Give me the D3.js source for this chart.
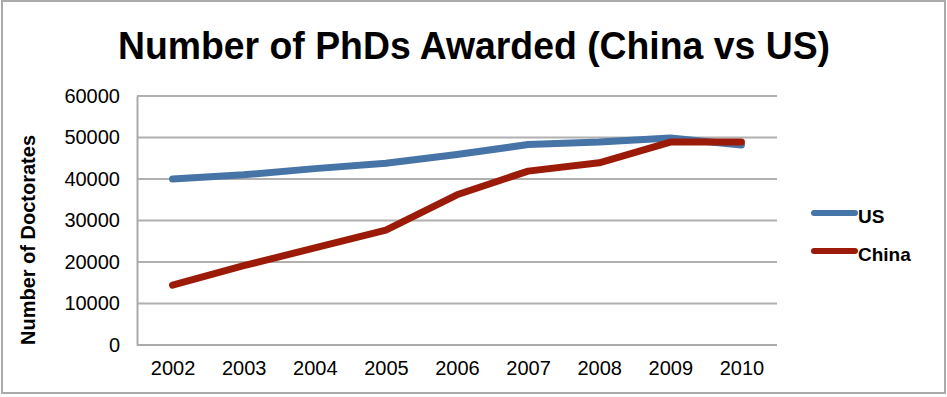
<!DOCTYPE html>
<html>
<head>
<meta charset="utf-8">
<script src="https://cdn.jsdelivr.net/npm/d3@7"></script>
<style>
  body { margin: 0; background: #fff; }
  text { font-family: "Liberation Sans", Arial, Helvetica, sans-serif; fill: #000; }
</style>
</head>
<body>
<div class="chartContainer"></div>
<script>
// data
const years = ['2002', '2003', '2004', '2005', '2006', '2007', '2008', '2009', '2010'];
const usValues = [40000, 41000, 42500, 43800, 45900, 48300, 48900, 49900, 48200];
const chinaValues = [14400, 19100, 23400, 27700, 36200, 41900, 43900, 48900, 48900];
const yTicks = [0, 10000, 20000, 30000, 40000, 50000, 60000];
const seriesNames = ['US', 'China'];
const seriesColors = ['#4674a7', '#9c1b08'];

const width = 947, height = 397;
const margins = { top: 96, bottom: 52, left: 137, right: 170 };
const chart_width = width - margins.left - margins.right;   // 640
const chart_height = height - margins.top - margins.bottom; // 249

const svg = d3.select('.chartContainer')
  .append('svg')
  .attr('width', width)
  .attr('height', height);

// outer frame
svg.append('rect')
  .attr('x', 2).attr('y', 1)
  .attr('width', 943).attr('height', 392)
  .attr('fill', 'none')
  .attr('stroke', '#aaa')
  .attr('stroke-width', 2);

// title
svg.append('text')
  .attr('x', 474)
  .attr('y', 59)
  .attr('text-anchor', 'middle')
  .attr('textLength', 712)
  .attr('lengthAdjust', 'spacingAndGlyphs')
  .style('font-size', '38px')
  .style('font-weight', 'bold')
  .text('Number of PhDs Awarded (China vs US)');

const xScale = d3.scalePoint()
  .domain(years)
  .range([0, chart_width])
  .padding(0.5);

const yScale = d3.scaleLinear()
  .domain([0, 60000])
  .range([chart_height, 0]);

const chart = svg.append('g')
  .attr('transform', `translate(${margins.left},${margins.top})`);

// gridlines
chart.selectAll('.grid')
  .data(yTicks.filter(d => d > 0))
  .enter()
  .append('line')
  .attr('class', 'grid')
  .attr('x1', 0).attr('x2', chart_width)
  .attr('y1', d => yScale(d)).attr('y2', d => yScale(d))
  .attr('stroke', '#b0b0b0')
  .attr('stroke-width', 2);

// y axis
const yAxis = chart.append('g')
  .call(d3.axisLeft(yScale).tickValues(yTicks).tickSize(0).tickPadding(17).tickFormat(d3.format('d')));
yAxis.select('.domain').attr('stroke', '#aaa').attr('stroke-width', 2);
yAxis.selectAll('text')
  .style('font-size', '20px')
  .attr('font-family', null);

// x axis
const xAxis = chart.append('g')
  .attr('transform', `translate(0,${chart_height})`)
  .call(d3.axisBottom(xScale).tickSize(0).tickPadding(16));
xAxis.select('.domain').attr('stroke', '#aaa').attr('stroke-width', 2)
  .attr('d', `M0,0H${chart_width}`);
xAxis.selectAll('text')
  .style('font-size', '20px')
  .attr('font-family', null);

// y axis title
svg.append('text')
  .attr('transform', 'translate(35,240) rotate(-90)')
  .attr('text-anchor', 'middle')
  .style('font-size', '20px')
  .style('font-weight', 'bold')
  .text('Number of Doctorates');

// lines
const line = d3.line()
  .x((d, i) => xScale(years[i]))
  .y(d => yScale(d));

const allSeries = [usValues, chinaValues];
chart.selectAll('.series')
  .data(allSeries)
  .enter()
  .append('path')
  .attr('class', 'series')
  .attr('d', d => line(d))
  .attr('fill', 'none')
  .attr('stroke', (d, i) => seriesColors[i])
  .attr('stroke-width', 7)
  .attr('stroke-linecap', 'round')
  .attr('stroke-linejoin', 'round');

// legend
const legend = svg.append('g');
const legendY = d3.scalePoint().domain(seriesNames).range([213, 251]);
legend.selectAll('line')
  .data(seriesNames)
  .enter()
  .append('line')
  .attr('x1', 814).attr('x2', 855)
  .attr('y1', d => legendY(d)).attr('y2', d => legendY(d))
  .attr('stroke', (d, i) => seriesColors[i])
  .attr('stroke-width', 6)
  .attr('stroke-linecap', 'round');
legend.selectAll('text')
  .data(seriesNames)
  .enter()
  .append('text')
  .attr('x', 858)
  .attr('y', d => legendY(d) + 10)
  .style('font-size', '19px')
  .style('font-weight', 'bold')
  .text(d => d);
</script>
</body>
</html>
